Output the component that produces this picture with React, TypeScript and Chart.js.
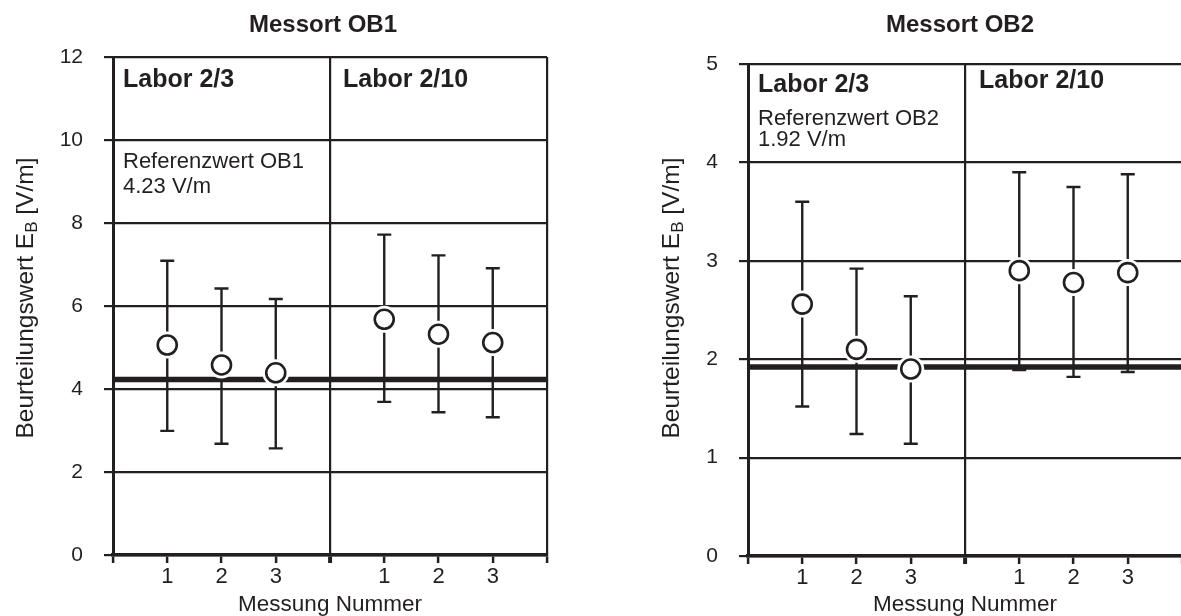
import React, { useEffect, useRef } from 'react';
import { Chart, registerables } from 'chart.js';

Chart.register(...registerables);

// ---------- data ----------
const lab23Positions = [1, 2, 3];
const lab210Positions = [5, 6, 7];
const xTickLabels = ['', '1', '2', '3', '', '1', '2', '3', ''];
const xTitle = 'Messung Nummer';
const labNames = ['Labor 2/3', 'Labor 2/10'];

// Messort OB1
const ob1Title = 'Messort OB1';
const ob1Lab23Mean = [5.06, 4.58, 4.39];
const ob1Lab23Upper = [7.09, 6.42, 6.17];
const ob1Lab23Lower = [2.99, 2.68, 2.57];
const ob1Lab210Mean = [5.68, 5.32, 5.12];
const ob1Lab210Upper = [7.72, 7.22, 6.91];
const ob1Lab210Lower = [3.69, 3.44, 3.32];
const ob1Reference = 4.23;
const ob1RefText = ['Referenzwert OB1', '4.23 V/m'];
const ob1YMax = 12;
const ob1YStep = 2;

// Messort OB2
const ob2Title = 'Messort OB2';
const ob2Lab23Mean = [2.56, 2.1, 1.9];
const ob2Lab23Upper = [3.6, 2.92, 2.64];
const ob2Lab23Lower = [1.52, 1.24, 1.14];
const ob2Lab210Mean = [2.9, 2.78, 2.88];
const ob2Lab210Upper = [3.9, 3.75, 3.88];
const ob2Lab210Lower = [1.89, 1.82, 1.87];
const ob2Reference = 1.92;
const ob2RefText = ['Referenzwert OB2', '1.92 V/m'];
const ob2YMax = 5;
const ob2YStep = 1;

// ---------- styling ----------
const INK = '#231f20';
const FONT = '"Liberation Sans", Arial, Helvetica, sans-serif';
Chart.defaults.font.family = FONT;

type PanelCfg = {
  title: string;
  mean23: number[]; up23: number[]; lo23: number[];
  mean210: number[]; up210: number[]; lo210: number[];
  reference: number;
  refText: string[];
  yMax: number; yStep: number;
  width: number; height: number;
  padTop: number; padRight: number; yWidth: number; xHeight: number;
  titleDx: number;
  lab23Dy: number; lab210Dy: number; lab210Dx: number;
  refDy1: number; refDy2: number;
  yTitleX: number; yTitleCy: number;
};

function buildConfig(p: PanelCfg) {
  const points = [
    ...lab23Positions.map((x, i) => ({ x, y: p.mean23[i] })),
    ...lab210Positions.map((x, i) => ({ x, y: p.mean210[i] })),
  ];
  const bars = [
    ...lab23Positions.map((x, i) => ({ x, lo: p.lo23[i], hi: p.up23[i] })),
    ...lab210Positions.map((x, i) => ({ x, lo: p.lo210[i], hi: p.up210[i] })),
  ];

  const errorBars = {
    id: 'errorBars',
    afterDatasetDraw(chart: any, args: any) {
      if (args.index !== 0) return;
      const { ctx } = chart;
      const xs = chart.scales.x;
      const ys = chart.scales.y;
      ctx.save();
      ctx.strokeStyle = INK;
      ctx.lineWidth = 2.4;
      ctx.lineCap = 'butt';
      bars.forEach((b) => {
        const px = xs.getPixelForValue(b.x);
        const pLo = ys.getPixelForValue(b.lo);
        const pHi = ys.getPixelForValue(b.hi);
        ctx.beginPath();
        ctx.moveTo(px, pLo);
        ctx.lineTo(px, pHi);
        ctx.moveTo(px - 7, pLo);
        ctx.lineTo(px + 7, pLo);
        ctx.moveTo(px - 7, pHi);
        ctx.lineTo(px + 7, pHi);
        ctx.stroke();
      });
      ctx.restore();
    },
  };

  const panelText = {
    id: 'panelText',
    afterDraw(chart: any) {
      const { ctx, chartArea } = chart;
      const xs = chart.scales.x;
      ctx.save();
      ctx.fillStyle = INK;
      ctx.textBaseline = 'alphabetic';
      // title
      ctx.font = `bold 24px ${FONT}`;
      ctx.textAlign = 'center';
      ctx.fillText(p.title, (chartArea.left + chartArea.right) / 2 + p.titleDx, 32);
      // lab labels
      ctx.textAlign = 'left';
      ctx.font = `bold 25px ${FONT}`;
      ctx.fillText(labNames[0], chartArea.left + 10, chartArea.top + p.lab23Dy);
      ctx.fillText(labNames[1], xs.getPixelForValue(4) + p.lab210Dx, chartArea.top + p.lab210Dy);
      // reference text
      ctx.font = `22px ${FONT}`;
      ctx.fillText(p.refText[0], chartArea.left + 10, chartArea.top + p.refDy1);
      ctx.fillText(p.refText[1], chartArea.left + 10, chartArea.top + p.refDy2);
      // y title with subscript
      ctx.translate(p.yTitleX, p.yTitleCy);
      ctx.rotate(-Math.PI / 2);
      const mainFont = `24.5px ${FONT}`;
      const subFont = `17px ${FONT}`;
      const s1 = 'Beurteilungswert E';
      const s2 = 'B';
      const s3 = ' [V/m]';
      ctx.font = mainFont;
      const w1 = ctx.measureText(s1).width;
      const w3 = ctx.measureText(s3).width;
      ctx.font = subFont;
      const w2 = ctx.measureText(s2).width;
      let x0 = -(w1 + w2 + w3) / 2;
      ctx.font = mainFont;
      ctx.fillText(s1, x0, 0);
      x0 += w1;
      ctx.font = subFont;
      ctx.fillText(s2, x0, 4);
      x0 += w2;
      ctx.font = mainFont;
      ctx.fillText(s3, x0, 0);
      ctx.restore();
    },
  };

  const tickVal = (c: any) => (c && c.tick ? c.tick.value : -1);

  return {
    type: 'scatter' as const,
    data: {
      datasets: [
        {
          label: 'Referenzwert',
          data: [{ x: 0, y: p.reference }, { x: 8, y: p.reference }],
          showLine: true,
          borderColor: INK,
          borderWidth: 5.5,
          pointRadius: 0,
          borderCapStyle: 'butt',
          order: 3,
        },
        {
          label: 'halo',
          data: points,
          pointRadius: 13.5,
          pointBackgroundColor: '#ffffff',
          pointBorderWidth: 0,
          pointBorderColor: '#ffffff',
          order: 2,
        },
        {
          label: 'Beurteilungswert',
          data: points,
          pointRadius: 9.5,
          pointBackgroundColor: '#ffffff',
          pointBorderColor: INK,
          pointBorderWidth: 2.6,
          order: 1,
        },
      ],
    },
    options: {
      animation: false,
      responsive: false,
      devicePixelRatio: 1,
      layout: { padding: { left: 0, right: p.padRight, top: p.padTop, bottom: 0 } },
      plugins: { legend: { display: false }, tooltip: { enabled: false }, title: { display: false } },
      scales: {
        x: {
          type: 'linear',
          min: 0,
          max: 8,
          afterFit: (s: any) => { s.height = p.xHeight; },
          ticks: {
            stepSize: 1,
            autoSkip: false,
            maxRotation: 0,
            minRotation: 0,
            padding: 1,
            color: INK,
            font: { size: 22 },
            callback: (v: any) => xTickLabels[Math.round(v)] ?? '',
          },
          grid: {
            drawTicks: true,
            tickLength: 8,
            color: (c: any) => (tickVal(c) === 4 || tickVal(c) === 8 ? INK : 'rgba(0,0,0,0)'),
            lineWidth: 2.2,
            tickColor: INK,
            tickWidth: (c: any) => (tickVal(c) === 4 ? 4 : 2.5),
          },
          border: { display: true, color: INK, width: 3.5 },
          title: { display: true, text: xTitle, color: INK, font: { size: 22.5 }, padding: { top: 0, bottom: -2 } },
        },
        y: {
          type: 'linear',
          min: 0,
          max: p.yMax,
          afterFit: (s: any) => { s.width = p.yWidth; },
          ticks: { stepSize: p.yStep, padding: 21, color: INK, font: { size: 21 } },
          grid: { color: INK, lineWidth: 2.2, tickLength: 9, tickColor: INK, tickWidth: 2.2 },
          border: { display: true, color: INK, width: 3 },
        },
      },
    },
    plugins: [errorBars, panelText],
  };
}

const ob1Cfg: PanelCfg = {
  title: ob1Title,
  mean23: ob1Lab23Mean, up23: ob1Lab23Upper, lo23: ob1Lab23Lower,
  mean210: ob1Lab210Mean, up210: ob1Lab210Upper, lo210: ob1Lab210Lower,
  reference: ob1Reference, refText: ob1RefText,
  yMax: ob1YMax, yStep: ob1YStep,
  width: 620, height: 616,
  padTop: 57, padRight: 73, yWidth: 113, xHeight: 61,
  titleDx: -7,
  lab23Dy: 30, lab210Dy: 30, lab210Dx: 13,
  refDy1: 111, refDy2: 136,
  yTitleX: 33, yTitleCy: 298,
};

const ob2Cfg: PanelCfg = {
  title: ob2Title,
  mean23: ob2Lab23Mean, up23: ob2Lab23Upper, lo23: ob2Lab23Lower,
  mean210: ob2Lab210Mean, up210: ob2Lab210Upper, lo210: ob2Lab210Lower,
  reference: ob2Reference, refText: ob2RefText,
  yMax: ob2YMax, yStep: ob2YStep,
  width: 620, height: 616,
  padTop: 64, padRight: 58, yWidth: 128, xHeight: 60,
  titleDx: -5,
  lab23Dy: 28, lab210Dy: 24, lab210Dx: 14,
  refDy1: 61, refDy2: 82,
  yTitleX: 59, yTitleCy: 298,
};

function Panel({ cfg, left }: { cfg: PanelCfg; left: number }) {
  const ref = useRef<HTMLCanvasElement>(null);
  useEffect(() => {
    const chart = new Chart(ref.current as HTMLCanvasElement, buildConfig(cfg) as any);
    return () => chart.destroy();
  }, [cfg]);
  return (
    <div style={{ position: 'absolute', left, top: 0, width: cfg.width, height: cfg.height }}>
      <canvas ref={ref} width={cfg.width} height={cfg.height} style={{ width: cfg.width, height: cfg.height, display: 'block' }} />
    </div>
  );
}

export default function App() {
  return (
    <div style={{ position: 'fixed', left: 0, top: 0, width: 1181, height: 616, overflow: 'hidden', background: '#ffffff' }}>
      <Panel cfg={ob1Cfg} left={0} />
      <Panel cfg={ob2Cfg} left={620} />
    </div>
  );
}
